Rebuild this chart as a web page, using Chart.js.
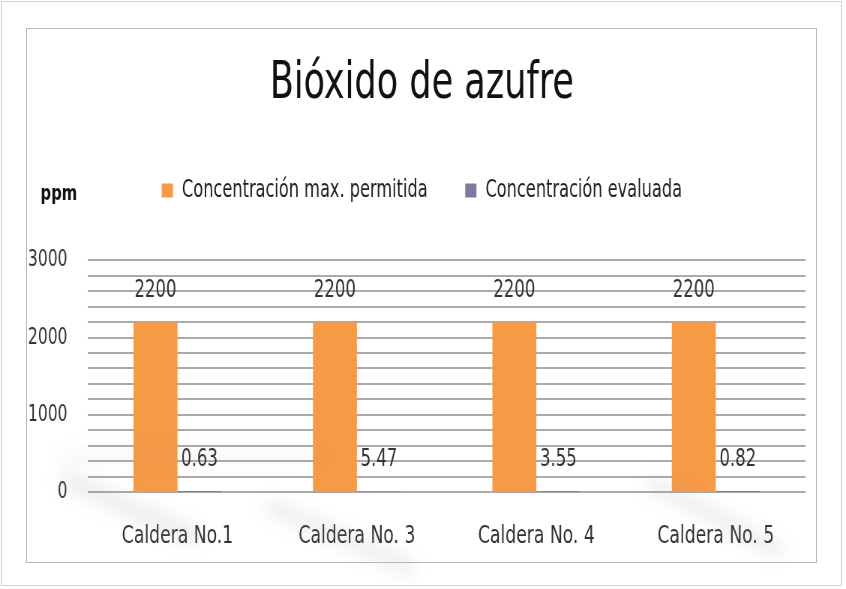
<!DOCTYPE html>
<html>
<head>
<meta charset="utf-8">
<script src="https://cdn.jsdelivr.net/npm/chart.js@4"></script>
<style>
  html, body { margin: 0; padding: 0; background: #fff; }
  #wrap { position: relative; width: 846px; height: 589px; overflow: hidden; }
  #outer { position: absolute; left: 1px; top: 1px; width: 841px; height: 585px; border: 1px solid #d4d4d4; box-sizing: border-box; }
  #inner { position: absolute; left: 26px; top: 28px; width: 791px; height: 535px; border: 1px solid #b8b8b8; box-sizing: border-box; }
  canvas { position: absolute; left: 0; top: 0; }
  .streak { position: absolute; background: #9a9a9a; filter: blur(9px); opacity: 0.2; pointer-events: none; }
</style>
</head>
<body>
<div id="wrap">
  <div id="outer"></div>
  <div id="inner"></div>
  <!-- lienzo mas ancho comprimido a 846px: imita la fuente condensada del original -->
  <canvas id="chart-1" width="1128" height="589" style="width:846px;height:589px;"></canvas>
  <div class="streak" style="left:55px;top:500px;width:150px;height:16px;transform:rotate(24deg);"></div>
  <div class="streak" style="left:260px;top:530px;width:160px;height:14px;transform:rotate(24deg);"></div>
  <div class="streak" style="left:640px;top:510px;width:150px;height:14px;transform:rotate(28deg);"></div>
  <div class="streak" style="left:60px;top:452px;width:260px;height:10px;opacity:0.1;"></div>
</div>
<script>
const categories = ['Caldera No.1', 'Caldera No. 3', 'Caldera No. 4', 'Caldera No. 5'];
const maxPermitida = [2200, 2200, 2200, 2200];
const evaluada = [0.63, 5.47, 3.55, 0.82];
const seriesLabels = ['Concentración max. permitida', 'Concentración evaluada'];
const yLabeled = [0, 1000, 2000, 3000];

const FONT = "'DejaVu Sans Condensed', 'DejaVu Sans', sans-serif";

// etiquetas de valor encima de cada barra
const valueLabels = {
    id: 'valueLabels',
    afterDatasetsDraw(chart) {
        const ctx = chart.ctx;
        ctx.save();
        ctx.font = `24.5px ${FONT}`;
        ctx.fillStyle = '#333';
        ctx.textAlign = 'center';
        ctx.textBaseline = 'middle';
        chart.data.datasets.forEach((ds, i) => {
            chart.getDatasetMeta(i).data.forEach((bar, j) => {
                ctx.fillText(String(ds.data[j]), bar.x, bar.y - 32);
            });
        });
        ctx.restore();
    }
};

// "ppm" arriba del eje
const unitLabel = {
    id: 'unitLabel',
    afterDraw(chart) {
        const ctx = chart.ctx;
        ctx.save();
        ctx.font = `bold 22px ${FONT}`;
        ctx.fillStyle = '#111';
        ctx.textAlign = 'left';
        ctx.textBaseline = 'middle';
        ctx.fillText('ppm', 54, 194);
        ctx.restore();
    }
};

// espacio extra debajo de la leyenda
const legendGap = {
    id: 'legendGap',
    beforeInit(chart) {
        const fit = chart.legend.fit;
        chart.legend.fit = function () {
            fit.bind(chart.legend)();
            this.height += 48;
        };
    }
};

const ctx = document.getElementById('chart-1').getContext('2d');

new Chart(ctx, {
    type: 'bar',
    data: {
        labels: categories,
        datasets: [{
            label: seriesLabels[0],
            data: maxPermitida,
            backgroundColor: '#F79A46',
            borderWidth: 0
        }, {
            label: seriesLabels[1],
            data: evaluada,
            backgroundColor: '#7F7A9F',
            borderWidth: 0
        }]
    },
    plugins: [valueLabels, unitLabel, legendGap],
    options: {
        responsive: false,
        animation: false,
        layout: { padding: { left: 30, right: 33, top: 0, bottom: 0 } },
        datasets: { bar: { categoryPercentage: 0.49, barPercentage: 1.0 } },
        plugins: {
            title: {
                display: true,
                text: 'Bióxido de azufre',
                color: '#111',
                font: { family: FONT, size: 52, weight: 'normal' },
                padding: { top: 53, bottom: 13 }
            },
            legend: {
                display: true,
                position: 'top',
                labels: {
                    color: '#222',
                    font: { family: FONT, size: 24 },
                    boxWidth: 15,
                    boxHeight: 14,
                    padding: 50
                }
            },
            tooltip: { enabled: false }
        },
        scales: {
            x: {
                grid: { display: false, drawTicks: false },
                border: { display: false },
                ticks: {
                    color: '#333',
                    font: { family: FONT, size: 25.5 },
                    padding: 29
                },
                afterFit(scale) { scale.height = 97; }
            },
            y: {
                min: 0,
                max: 3000,
                grid: { color: '#aaaaaa', lineWidth: 2, drawTicks: false },
                border: { display: false },
                ticks: {
                    stepSize: 200,
                    color: '#333',
                    font: { family: FONT, size: 23 },
                    padding: 27,
                    autoSkip: false,
                    callback: (v) => yLabeled.includes(v) ? v : ''
                },
                afterFit(scale) { scale.width = 87; }
            },
            // eje vacio a la derecha: solo reserva margen
            yRight: {
                position: 'right',
                display: true,
                grid: { display: false, drawTicks: false },
                border: { display: false },
                ticks: { display: false },
                afterFit(scale) { scale.width = 21; }
            }
        }
    }
});
</script>
</body>
</html>
